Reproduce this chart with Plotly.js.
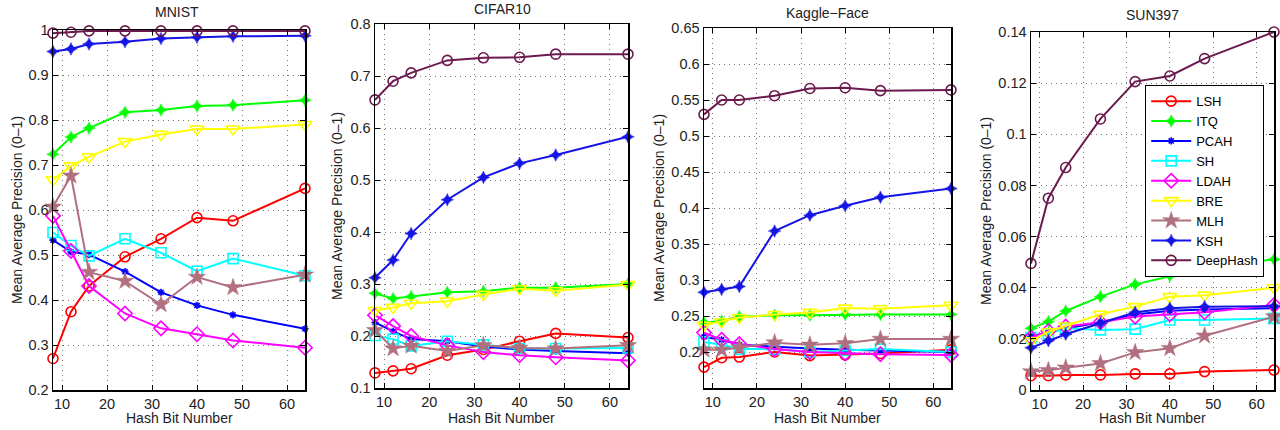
<!DOCTYPE html>
<html>
<head>
<meta charset="utf-8">
<script src="https://cdn.plot.ly/plotly-3.0.1.min.js"></script>
<style>html,body{margin:0;padding:0;background:#fff;}#chart{width:1280px;height:430px;}</style>
</head>
<body>
<div id="chart"></div>
<script>
// ---------------- data ----------------
const bits = [8, 12, 16, 24, 32, 40, 48, 64];
const methods = ["LSH", "ITQ", "PCAH", "SH", "LDAH", "BRE", "MLH", "KSH", "DeepHash"];
const datasets = ["MNIST", "CIFAR10", "Kaggle\u2212Face", "SUN397"];

// rows follow the order of `methods`
const mnistVals = [
  [0.270, 0.374, 0.431, 0.496, 0.536, 0.583, 0.576, 0.648],
  [0.724, 0.762, 0.782, 0.817, 0.822, 0.831, 0.833, 0.844],
  [0.533, 0.507, 0.501, 0.463, 0.417, 0.388, 0.367, 0.336],
  [0.550, 0.521, 0.498, 0.536, 0.505, 0.464, 0.492, 0.454],
  [0.587, 0.509, 0.431, 0.370, 0.337, 0.324, 0.310, 0.294],
  [0.667, 0.698, 0.718, 0.752, 0.768, 0.780, 0.780, 0.790],
  [0.607, 0.676, 0.462, 0.442, 0.390, 0.451, 0.428, 0.456],
  [0.952, 0.958, 0.969, 0.974, 0.981, 0.984, 0.986, 0.987],
  [0.993, 0.995, 0.998, 0.998, 0.998, 0.998, 0.998, 0.998]
];
const cifarVals = [
  [0.129, 0.133, 0.137, 0.163, 0.174, 0.190, 0.205, 0.197],
  [0.282, 0.272, 0.276, 0.284, 0.286, 0.293, 0.293, 0.300],
  [0.226, 0.209, 0.194, 0.190, 0.180, 0.174, 0.171, 0.167],
  [0.201, 0.194, 0.181, 0.190, 0.183, 0.176, 0.176, 0.177],
  [0.240, 0.219, 0.200, 0.182, 0.169, 0.163, 0.159, 0.153],
  [0.249, 0.255, 0.263, 0.267, 0.280, 0.291, 0.287, 0.299],
  [0.211, 0.176, 0.181, 0.171, 0.182, 0.177, 0.176, 0.182],
  [0.312, 0.346, 0.397, 0.462, 0.505, 0.532, 0.548, 0.583],
  [0.654, 0.690, 0.706, 0.730, 0.735, 0.736, 0.742, 0.742]
];
const kaggleVals = [
  [0.179, 0.192, 0.193, 0.200, 0.195, 0.196, 0.198, 0.203],
  [0.241, 0.243, 0.249, 0.251, 0.251, 0.252, 0.252, 0.252],
  [0.221, 0.217, 0.210, 0.207, 0.205, 0.203, 0.202, 0.200],
  [0.214, 0.210, 0.204, 0.204, 0.200, 0.202, 0.204, 0.200],
  [0.227, 0.217, 0.211, 0.204, 0.200, 0.198, 0.197, 0.196],
  [0.237, 0.242, 0.248, 0.252, 0.255, 0.261, 0.260, 0.265],
  [0.203, 0.203, 0.206, 0.213, 0.210, 0.212, 0.218, 0.218],
  [0.283, 0.287, 0.291, 0.368, 0.390, 0.403, 0.415, 0.427],
  [0.530, 0.550, 0.550, 0.556, 0.566, 0.567, 0.563, 0.564]
];
const sunVals = [
  [0.0056, 0.0056, 0.0059, 0.0059, 0.0063, 0.0063, 0.0072, 0.0078],
  [0.0241, 0.0267, 0.0309, 0.0365, 0.0413, 0.0446, 0.0476, 0.0511],
  [0.0210, 0.0225, 0.0240, 0.0265, 0.0295, 0.0310, 0.0315, 0.0320],
  [0.0205, 0.0220, 0.0241, 0.0235, 0.0238, 0.0274, 0.0274, 0.0280],
  [0.0205, 0.0231, 0.0248, 0.0265, 0.0287, 0.0296, 0.0304, 0.0332],
  [0.0192, 0.0228, 0.0250, 0.0296, 0.0326, 0.0365, 0.0371, 0.0400],
  [0.0072, 0.0077, 0.0087, 0.0104, 0.0147, 0.0163, 0.0212, 0.0287],
  [0.0165, 0.0193, 0.0218, 0.0261, 0.0304, 0.0320, 0.0326, 0.0328],
  [0.0495, 0.0750, 0.0870, 0.1060, 0.1206, 0.1228, 0.1296, 0.1400]
];

const xTickVals = [10, 20, 30, 40, 50, 60];
const mnistTicks = [0.2, 0.3, 0.4, 0.5, 0.6, 0.7, 0.8, 0.9, 1];
const mnistTickText = ["0.2", "0.3", "0.4", "0.5", "0.6", "0.7", "0.8", "0.9", "1"];
const cifarTicks = [0.1, 0.2, 0.3, 0.4, 0.5, 0.6, 0.7, 0.8];
const cifarTickText = ["0.1", "0.2", "0.3", "0.4", "0.5", "0.6", "0.7", "0.8"];
const kaggleTicks = [0.2, 0.25, 0.3, 0.35, 0.4, 0.45, 0.5, 0.55, 0.6, 0.65];
const kaggleTickText = ["0.2", "0.25", "0.3", "0.35", "0.4", "0.45", "0.5", "0.55", "0.6", "0.65"];
const sunTicks = [0, 0.02, 0.04, 0.06, 0.08, 0.1, 0.12, 0.14];
const sunTickText = ["0", "0.02", "0.04", "0.06", "0.08", "0.1", "0.12", "0.14"];

const xTitle = "Hash Bit Number";
const yTitle = "Mean Average Precision (0\u20131)";

// ---------------- styles ----------------
const W = 1280, H = 430;
const FONT = "Liberation Sans, Arial, Helvetica, sans-serif";
const styles = {
  LSH:      {color: "#ff0000", symbol: "circle-open", size: 10},
  ITQ:      {color: "#00ff00", symbol: "star-diamond", size: 9},
  PCAH:     {color: "#0000ff", symbol: "asterisk-open", size: 6},
  SH:       {color: "#00ffff", symbol: "square-open", size: 10},
  LDAH:     {color: "#ff00ff", symbol: "diamond-open", size: 11},
  BRE:      {color: "#ffff00", symbol: "triangle-down-open", size: 12},
  MLH:      {color: "#b0707f", symbol: "star", size: 13},
  KSH:      {color: "#1414e6", symbol: "star-diamond", size: 9},
  DeepHash: {color: "#6b1a4e", symbol: "circle-open", size: 10}
};

// panel boxes in pixels: [left, right, top, bottom]
const boxes = [
  [53, 305, 30, 390],
  [375, 628, 24, 388],
  [704, 951, 28, 388],
  [1031, 1274, 32, 390]
];
const panelData = [mnistVals, cifarVals, kaggleVals, sunVals];
const yRanges = [[0.2, 1], [0.1, 0.8], [0.15, 0.65], [0, 0.14]];
const yTicks = [[mnistTicks, mnistTickText], [cifarTicks, cifarTickText], [kaggleTicks, kaggleTickText], [sunTicks, sunTickText]];
const titlePos = [[177, 12], [502, 9], [827, 13], [1152, 15]];
const yTitleX = [17, 337, 659, 986];

const px = x => x / W;
const py = y => 1 - y / H;

const traces = [];
const layout = {
  width: W, height: H, autosize: false,
  margin: {l: 0, r: 0, t: 0, b: 0, pad: 0},
  paper_bgcolor: "#ffffff", plot_bgcolor: "#ffffff",
  font: {family: FONT, size: 14, color: "#000"},
  showlegend: true,
  legend: {
    x: px(1145), y: py(85), xanchor: "left", yanchor: "top",
    bgcolor: "#ffffff", bordercolor: "#000000", borderwidth: 1.2,
    font: {family: FONT, size: 13, color: "#000"},
    itemwidth: 40, tracegroupgap: 0
  },
  annotations: []
};

panelData.forEach((vals, p) => {
  const sfx = p === 0 ? "" : String(p + 1);
  const [l, r, t, b] = boxes[p];
  methods.forEach((m, i) => {
    const s = styles[m];
    const open = s.symbol.indexOf("open") >= 0;
    traces.push({
      type: "scatter", mode: "lines+markers",
      x: bits, y: vals[i], name: m,
      xaxis: "x" + sfx, yaxis: "y" + sfx,
      showlegend: p === 3,
      cliponaxis: false,
      line: {color: s.color, width: 2},
      marker: {symbol: s.symbol, size: s.size, color: s.color,
               line: {color: s.color, width: open ? 1.6 : 0.5}}
    });
  });
  const axCommon = {
    showline: true, linecolor: "#000", linewidth: 1.5, mirror: "ticks",
    ticks: "inside", ticklen: 5, tickwidth: 1, tickcolor: "#000",
    showgrid: true, gridcolor: "#777", gridwidth: 1, griddash: "1px,4px",
    zeroline: false, tickfont: {family: FONT, size: 14.5, color: "#222"}
  };
  layout["xaxis" + sfx] = Object.assign({}, axCommon, {
    domain: [px(l), px(r)], anchor: "y" + sfx, range: [8, 64],
    tickmode: "array", tickvals: xTickVals
  });
  layout["yaxis" + sfx] = Object.assign({}, axCommon, {
    domain: [py(b), py(t)], anchor: "x" + sfx, range: yRanges[p],
    tickmode: "array", tickvals: yTicks[p][0], ticktext: yTicks[p][1]
  });
  layout.annotations.push({
    xref: "paper", yref: "paper", x: px(titlePos[p][0]), y: py(titlePos[p][1]),
    xanchor: "center", yanchor: "middle", showarrow: false,
    text: datasets[p], font: {family: FONT, size: 14, color: "#222"}
  });
  layout.annotations.push({
    xref: "paper", yref: "paper", x: px((l + r) / 2), y: py(418),
    xanchor: "center", yanchor: "middle", showarrow: false,
    text: xTitle, font: {family: FONT, size: 14, color: "#222"}
  });
  layout.annotations.push({
    xref: "paper", yref: "paper", x: px(yTitleX[p]), y: py((t + b) / 2),
    xanchor: "center", yanchor: "middle", showarrow: false, textangle: -90,
    text: yTitle, font: {family: FONT, size: 14, color: "#222"}
  });
});

Plotly.newPlot("chart", traces, layout, {staticPlot: true, displayModeBar: false});
</script>
</body>
</html>
